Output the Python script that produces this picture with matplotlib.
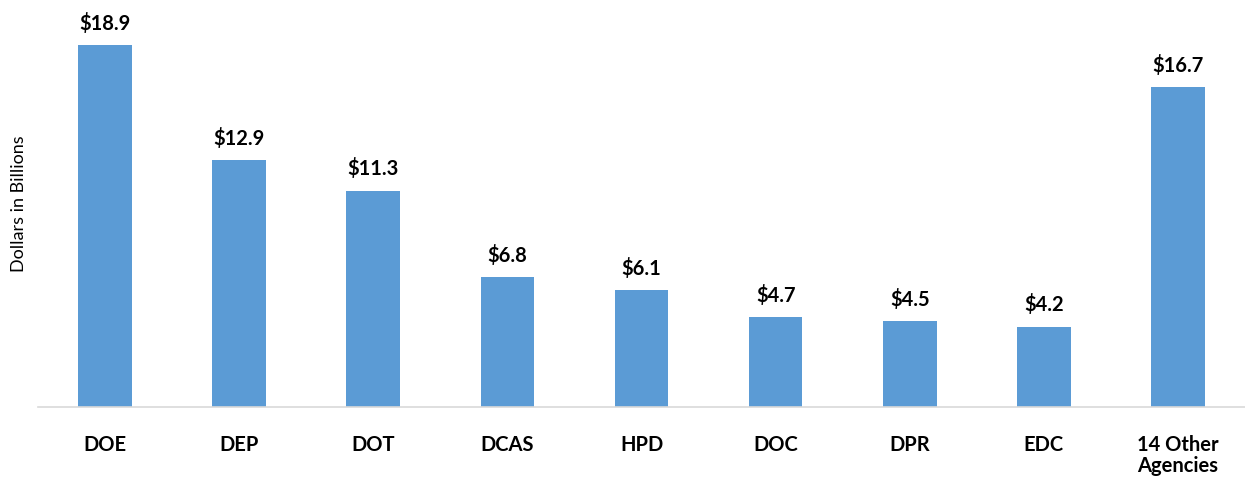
import matplotlib.pyplot as plt

agencies = ['DOE', 'DEP', 'DOT', 'DCAS', 'HPD', 'DOC', 'DPR', 'EDC', '14 Other\nAgencies']
amounts = [18.9, 12.9, 11.3, 6.8, 6.1, 4.7, 4.5, 4.2, 16.7]

plt.rcParams['font.family'] = ['Lato', 'DejaVu Sans']

fig = plt.figure(figsize=(12.45, 4.78), dpi=100)
ax = fig.add_axes([38 / 1245, 71 / 478, 1 - 38 / 1245, 407 / 478])

x = range(len(agencies))
bars = ax.bar(x, amounts, width=0.40, color='#5B9BD5')

for rect, val in zip(bars, amounts):
    ax.annotate(f'${val:.1f}', (rect.get_x() + rect.get_width() / 2, val),
                xytext=(0, 8), textcoords='offset points', ha='center', va='bottom',
                fontsize=14.5, fontweight='bold', color='black')

ax.set_xlim(-0.5, len(agencies) - 0.5)
ax.set_ylim(0, 21.25)
ax.set_xticks(list(x))
ax.set_xticklabels(agencies, fontsize=14.5, fontweight='bold', va='top', linespacing=1.05)
ax.tick_params(axis='x', length=0, pad=20)
ax.set_yticks([])
ax.set_ylabel('Dollars in Billions', fontsize=13, labelpad=8)

for side in ['top', 'right', 'left']:
    ax.spines[side].set_visible(False)
ax.spines['bottom'].set_color('#D9D9D9')
ax.spines['bottom'].set_linewidth(1.2)

plt.savefig('out.png', dpi=100)
